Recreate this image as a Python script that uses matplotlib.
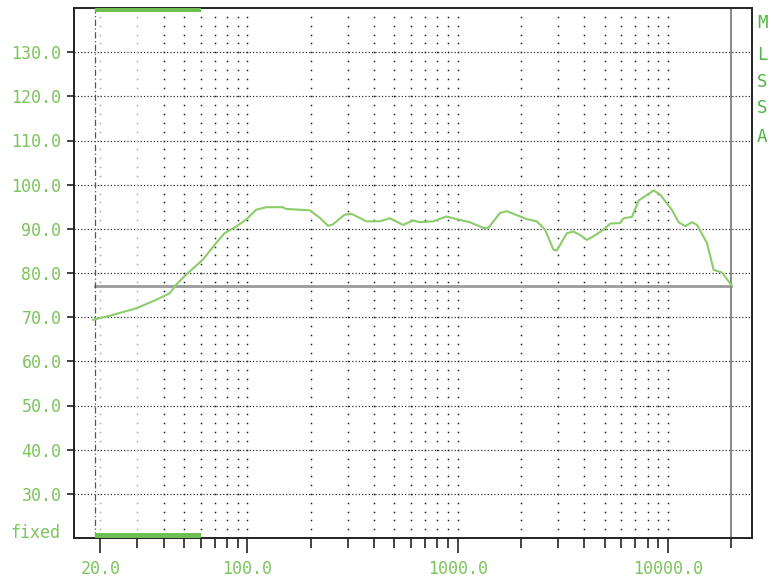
import numpy as np
import matplotlib
matplotlib.use("Agg")
import matplotlib.pyplot as plt

# ---- data ----
freq_hz = [18.5, 22.9, 29.6, 36.8, 42.7, 45.8, 51.1, 61.4, 71.1, 77.9, 88.5, 98.8,
           110, 123, 147.6, 153, 198, 221, 242, 255, 290, 313, 368, 426, 476, 550,
           614, 661, 765, 885, 988, 1143, 1324, 1399, 1590, 1711, 1979, 2130, 2377,
           2605, 2852, 2960, 3304, 3550, 3822, 4113, 4420, 4936, 5311, 5928, 6148,
           6740, 7250, 8550, 9190, 10440, 11230, 12080, 13000, 13730, 15320, 16480,
           18060, 20140]
level_db = [69.4, 70.5, 72.0, 73.9, 75.4, 77.3, 79.6, 83.0, 86.8, 89.0, 90.5, 92.1,
            94.3, 94.9, 94.9, 94.5, 94.2, 92.5, 90.7, 91.0, 93.2, 93.4, 91.7, 91.7,
            92.4, 90.9, 91.9, 91.5, 91.7, 92.8, 92.2, 91.5, 90.2, 90.2, 93.6, 94.0,
            92.8, 92.2, 91.7, 89.8, 85.3, 85.1, 89.0, 89.4, 88.6, 87.5, 88.3, 89.8,
            91.2, 91.3, 92.4, 92.7, 96.4, 98.7, 97.7, 94.3, 91.5, 90.6, 91.5, 90.9,
            86.8, 80.7, 80.1, 77.1]
ref_level_db = 77.0
f_start = 18.8
f_stop = 20000
gate_band = [18.8, 60]
y_ticks = [30, 40, 50, 60, 70, 80, 90, 100, 110, 120, 130]
y_tick_labels = ["30.0", "40.0", "50.0", "60.0", "70.0", "80.0", "90.0",
                 "100.0", "110.0", "120.0", "130.0"]
x_major = [20, 100, 1000, 10000]
x_major_labels = ["20.0", "100.0", "1000.0", "10000.0"]
x_minor = [30, 40, 50, 60, 70, 80, 90, 200, 300, 400, 500, 600, 700, 800, 900,
           2000, 3000, 4000, 5000, 6000, 7000, 8000, 9000, 20000]
v_grid = [20, 30, 40, 50, 60, 70, 80, 90, 100, 200, 300, 400, 500, 600, 700, 800,
          900, 1000, 2000, 3000, 4000, 5000, 6000, 7000, 8000, 9000, 10000]

GREEN_TXT = "#7cc45c"
GREEN_CURVE = "#8ccc6a"
GREEN_BAR = "#6cbf50"
GREEN_MLSSA = "#52b646"
MONO = "DejaVu Sans Mono"

fig = plt.figure(figsize=(7.71, 5.79), dpi=100)
ax = fig.add_axes([74/771, 41/579, (751.7-74)/771, (538-8)/579])
ax.set_xscale("log")
ax.set_xlim(15.0, 25000)
ax.set_ylim(20, 140)

# horizontal dotted grid
for y in y_ticks:
    ax.axhline(y, color="#222222", lw=0.85, linestyle=(0, (1, 1.8)), zorder=1)

# vertical dotted grid (dots every 2 dB)
dots_y = np.arange(22, 140, 2)
for f in v_grid:
    col = "#aaaaaa" if f in (20, 30) else "#222222"
    ax.plot([f]*len(dots_y), dots_y, linestyle="none", marker="s",
            markersize=1.1, color=col, markeredgewidth=0, zorder=1)

# reference lines
ax.plot([f_start, f_stop], [ref_level_db, ref_level_db], color="#9a9a9a", lw=2.0, zorder=2)
ax.axvline(f_stop, color="#888888", lw=1.4, zorder=2)
ax.axvline(f_start, color="#555555", lw=0.9, linestyle=(0, (5, 2, 1, 2)), zorder=2)

# gate bars
ax.fill_between(gate_band, 139.0, 140, color=GREEN_BAR, zorder=3, lw=0)
ax.fill_between(gate_band, 20, 21.1, color=GREEN_BAR, zorder=3, lw=0)

# response curve
ax.plot(freq_hz, level_db, color=GREEN_CURVE, lw=1.5, zorder=4)

# spines
for s in ax.spines.values():
    s.set_color("#222222")
    s.set_linewidth(1.4)

# ticks
ax.set_yticks(y_ticks)
ax.set_yticklabels(y_tick_labels)
ax.tick_params(axis="y", direction="out", length=5, width=1.2, color="#222222",
               labelcolor=GREEN_TXT, labelsize=12, pad=4)
ax.set_xticks(x_major)
ax.set_xticklabels(x_major_labels)
ax.set_xticks(x_minor, minor=True)
ax.set_xticklabels([], minor=True)
ax.tick_params(axis="x", which="major", direction="out", length=11, width=1.2,
               color="#222222", labelcolor=GREEN_TXT, labelsize=12, pad=5)
ax.tick_params(axis="x", which="minor", direction="out", length=7, width=1.2,
               color="#222222")
for lab in ax.get_xticklabels() + ax.get_yticklabels():
    lab.set_family(MONO)

# "fixed" label
fig.text(10/771, 1 - 533/579, "fixed", color=GREEN_TXT, fontsize=12,
         family=MONO, ha="left", va="center")

# MLSSA vertical letters
for ch, yp in zip("MLSSA", [23, 55, 82, 108, 137]):
    fig.text(762/771, 1 - yp/579, ch, color=GREEN_MLSSA, fontsize=12.5,
             family=MONO, ha="center", va="center")

fig.savefig("out.png", dpi=100)
